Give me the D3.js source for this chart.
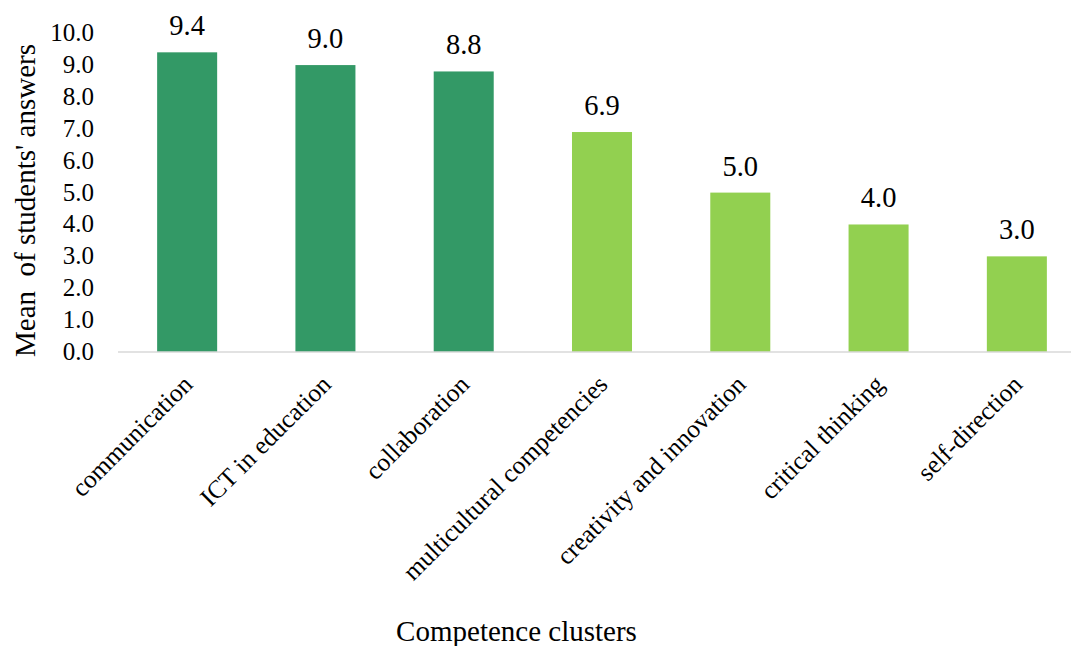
<!DOCTYPE html>
<html>
<head>
<meta charset="utf-8">
<script src="https://cdn.jsdelivr.net/npm/d3@7"></script>
<style>
  html, body { margin: 0; padding: 0; background: #fff; }
  text { font-family: "Liberation Serif", "Times New Roman", serif; fill: #000; }
</style>
</head>
<body>
<svg id="chart" width="1071" height="646"></svg>
<script>
// Competence clusters and mean scores
const categories = ["communication", "ICT in education", "collaboration", "multicultural competencies", "creativity and innovation", "critical thinking", "self-direction"];
const values = [9.4, 9.0, 8.8, 6.9, 5.0, 4.0, 3.0];
const groups = ["high", "high", "high", "low", "low", "low", "low"];
const yTicks = [0, 1, 2, 3, 4, 5, 6, 7, 8, 9, 10];

const svg = d3.select("#chart");
const plotLeft = 118, plotRight = 1086, plotTop = 33.2, plotBottom = 352;

const x = d3.scaleBand().domain(categories).range([plotLeft, plotRight]).paddingInner(0.566).paddingOuter(0.283);
const y = d3.scaleLinear().domain([0, 10]).range([plotBottom, plotTop]);
const color = d3.scaleOrdinal().domain(["high", "low"]).range(["#339966", "#92D050"]);

// bars
svg.append("g").selectAll("rect").data(categories).join("rect")
  .attr("x", d => x(d))
  .attr("y", (d, i) => y(values[i]))
  .attr("width", x.bandwidth())
  .attr("height", (d, i) => y(0) - y(values[i]))
  .attr("fill", (d, i) => color(groups[i]));

// value labels
svg.append("g").selectAll("text").data(categories).join("text")
  .attr("x", d => x(d) + x.bandwidth() / 2)
  .attr("y", (d, i) => y(values[i]) - 17)
  .attr("text-anchor", "middle")
  .style("font-size", "28.5px")
  .text((d, i) => values[i].toFixed(1));

// baseline
svg.append("line")
  .attr("x1", plotLeft).attr("x2", 1071)
  .attr("y1", y(0)).attr("y2", y(0))
  .attr("stroke", "#d9d9d9").attr("stroke-width", 1.5);

// y axis tick labels
const yAxis = d3.axisLeft(y).tickValues(yTicks).tickFormat(d3.format(".1f")).tickSize(0).tickPadding(0);
const gy = svg.append("g").attr("transform", "translate(94,0)").call(yAxis);
gy.select(".domain").remove();
gy.attr("font-family", null).attr("font-size", null);
gy.selectAll("text").style("font-size", "25px").attr("dy", "0.3em");

// x axis category labels, rotated
const xAxis = d3.axisBottom(x).tickSize(0).tickPadding(0);
const gx = svg.append("g").attr("transform", `translate(0,${plotBottom})`).call(xAxis);
gx.select(".domain").remove();
gx.attr("font-family", null).attr("font-size", null);
gx.selectAll("text")
  .style("font-size", "25.5px")
  .attr("text-anchor", "end")
  .attr("dy", null)
  .attr("y", 0)
  .attr("transform", "translate(7,34) rotate(-45)");

// axis titles
svg.append("text")
  .attr("transform", "translate(35,200.5) rotate(-90)")
  .attr("text-anchor", "middle")
  .style("font-size", "29px")
  .style("white-space", "pre")
  .text("Mean  of students' answers");

svg.append("text")
  .attr("x", 516.5).attr("y", 641)
  .attr("text-anchor", "middle")
  .style("font-size", "29px")
  .text("Competence clusters");
</script>
</body>
</html>
